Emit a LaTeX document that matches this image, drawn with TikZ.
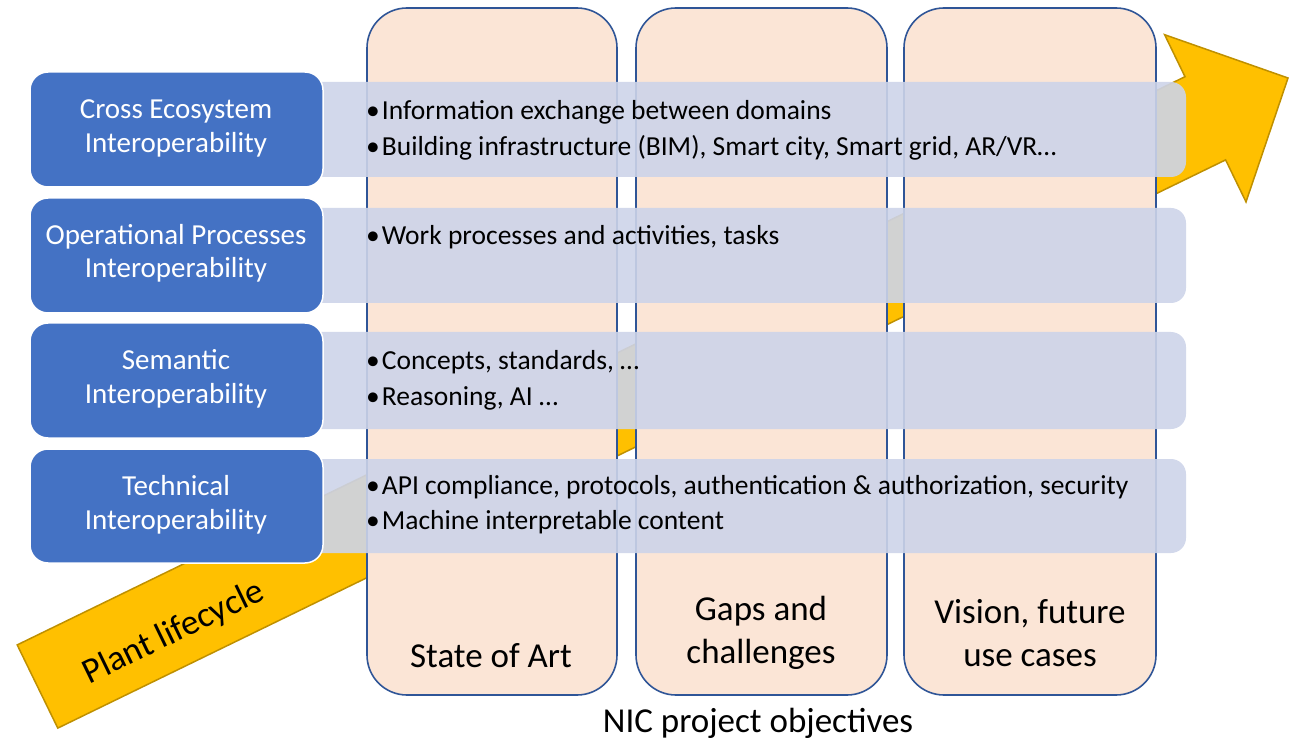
\documentclass[tikz,border=0pt]{standalone}
\usepackage{fontspec}
\setmainfont{Carlito}
\begin{document}
\begin{tikzpicture}[x=1pt,y=-1pt,
  arrowfill/.style={fill=arrowyellow, draw=arrowedge, line width=1.5pt, line join=miter},
  colbox/.style={fill=peach, draw=colborder, line width=1.6pt, rounded corners=40pt},
  barbox/.style={fill=barblue, fill opacity=0.9, draw=none, rounded corners=15pt},
  bluebox/.style={fill=boxblue, draw=white, line width=1.5pt, rounded corners=18pt},
  boxtext/.style={text=white, font=\fontsize{29}{33.5}\selectfont, align=center, inner sep=0pt},
  bullettext/.style={anchor=west, font=\fontsize{27.5}{30}\selectfont, inner sep=0pt},
  coltext/.style={font=\fontsize{35}{43}\selectfont, align=center, inner sep=0pt}
]
\definecolor{arrowyellow}{HTML}{FFC000}
\definecolor{arrowedge}{HTML}{BF9000}
\definecolor{peach}{HTML}{FBE5D6}
\definecolor{colborder}{HTML}{2F5597}
\definecolor{barblue}{RGB}{205,212,233}
\definecolor{boxblue}{HTML}{4472C4}
\useasboundingbox (0,0) rectangle (1296,743);

% big arrow
\draw[arrowfill] (17.2,644.9) -- (1185,76.7) -- (1164.6,34.7) -- (1288,78)
  -- (1246,201.9) -- (1225.6,159.9) -- (57.8,728.1) -- cycle;
\node[rotate=25.9, font=\fontsize{35.5}{40}\selectfont, inner sep=0pt] (plc) at (174,633) {Plant lifecycle};

% columns
\draw[colbox] (367,8) rectangle (617,695);
\draw[colbox] (636,8) rectangle (887,695);
\draw[colbox] (904,8) rectangle (1156,695);
\node[coltext] (c1) at (491,656) {State of Art};
\node[coltext] (c2) at (761,633) {Gaps and\\challenges};
\node[coltext] (c3) at (1030,633) {Vision, future\\use cases};

% bars
\fill[barbox] (300,82) rectangle (1186,177);
\fill[barbox] (300,208) rectangle (1186,303);
\fill[barbox] (300,332) rectangle (1186,429);
\fill[barbox] (300,459) rectangle (1186,553);

% blue boxes
\draw[bluebox] (30,72) rectangle (323,187);
\draw[bluebox] (30,198) rectangle (323,313);
\draw[bluebox] (30,323) rectangle (323,438);
\draw[bluebox] (30,449) rectangle (323,563);
\node[boxtext] (l1) at (176,128.5) {Cross Ecosystem\\Interoperability};
\node[boxtext] (l2) at (176,253.5) {Operational Processes\\Interoperability};
\node[boxtext] (l3) at (176,379) {Semantic\\Interoperability};
\node[boxtext] (l4) at (176,505) {Technical\\Interoperability};

% bullet texts
\node[bullettext] (t1a) at (366,112) {\textbullet\hspace{2pt}Information exchange between domains};
\node[bullettext] (t1b) at (366,148) {\textbullet\hspace{2pt}Building infrastructure (BIM), Smart city, Smart grid, AR/VR…};
\node[bullettext] (t2a) at (366,237) {\textbullet\hspace{2pt}Work processes and activities, tasks};
\node[bullettext] (t3a) at (366,362) {\textbullet\hspace{2pt}Concepts, standards, …};
\node[bullettext] (t3b) at (366,398) {\textbullet\hspace{2pt}Reasoning, AI …};
\node[bullettext] (t4a) at (366,487) {\textbullet\hspace{2pt}API compliance, protocols, authentication \& authorization, security};
\node[bullettext] (t4b) at (366,522) {\textbullet\hspace{2pt}Machine interpretable content};

\node[font=\fontsize{35}{40}\selectfont, inner sep=0pt] (nic) at (758,723) {NIC project objectives};
\end{tikzpicture}
\end{document}
